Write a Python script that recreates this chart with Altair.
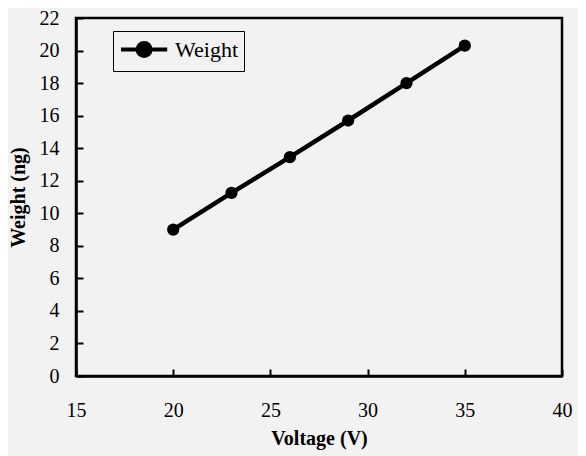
import altair as alt
import pandas as pd

voltage = [20, 23, 26, 29, 32, 35]
weight = [9.0, 11.25, 13.45, 15.7, 18.0, 20.3]
series = ["Weight"] * len(voltage)

x_ticks = [15, 20, 25, 30, 35, 40]
y_ticks = [0, 2, 4, 6, 8, 10, 12, 14, 16, 18, 20, 22]

df = pd.DataFrame({"Voltage": voltage, "Weight": weight, "Series": series})

FONT = "Liberation Serif"
BG = "#f2f2f2"
W, H = 486, 358

legend_path = ("M-1,0L3.4,0M1.82,0A0.62,0.62,0,1,1,0.58,0"
               "A0.62,0.62,0,1,1,1.82,0Z")

x_enc = alt.X(
    "Voltage:Q",
    scale=alt.Scale(domain=[15, 40], nice=False, zero=False),
    axis=alt.Axis(
        values=x_ticks, title="Voltage (V)", ticks=False,
        grid=True, gridDash=[0, H - 7, 7, 2000], gridColor="black", gridWidth=2, gridOpacity=1,
        domainColor="black", domainWidth=2.5,
        labelFont=FONT, labelFontSize=20, labelColor="black",
        labelPadding=34, labelBaseline="middle", labelOverlap=False, labelFlush=False,
        titleFont=FONT, titleFontSize=20, titleFontWeight="bold", titleColor="black",
        titleY=62, titleBaseline="middle",
    ),
)
y_enc = alt.Y(
    "Weight:Q",
    scale=alt.Scale(domain=[0, 22], nice=False),
    axis=alt.Axis(
        values=y_ticks, tickCount=12, title="Weight (ng)", ticks=False,
        grid=True, gridDash=[7, 2000], gridColor="black", gridWidth=2, gridOpacity=1,
        domainColor="black", domainWidth=2.5,
        labelFont=FONT, labelFontSize=20, labelColor="black",
        labelPadding=17, labelOverlap=False, labelFlush=False, labelBound=False,
        titleFont=FONT, titleFontSize=20, titleFontWeight="bold", titleColor="black",
        titleX=-57.5, titleY=H / 2, titleAngle=270, titleAlign="center", titleBaseline="middle",
    ),
)
color_enc = alt.Color(
    "Series:N",
    scale=alt.Scale(range=["black"]),
    legend=alt.Legend(
        title=None, orient="none", legendX=37, legendY=13,
        strokeColor="black", fillColor=BG, padding=6,
        symbolType=legend_path, symbolSize=441, symbolStrokeWidth=4,
        symbolFillColor="black", symbolStrokeColor="black",
        labelFont=FONT, labelFontSize=22, labelColor="black", labelOffset=31,
    ),
)

base = alt.Chart(df).encode(x=x_enc, y=y_enc, color=color_enc)
line = base.mark_line(strokeWidth=4.5)
points = base.mark_point(filled=True, size=150, opacity=1)

chart = (
    alt.layer(line, points)
    .properties(
        width=W, height=H, background=BG,
        autosize=alt.AutoSizeParams(type="none"),
        padding={"left": 68, "top": 10, "right": 16, "bottom": 80},
    )
    .configure(font=FONT)
    .configure_view(stroke="black", strokeWidth=2.5, fill=BG)
)

chart.save("out.html", embed_options={"renderer": "svg", "actions": False})
